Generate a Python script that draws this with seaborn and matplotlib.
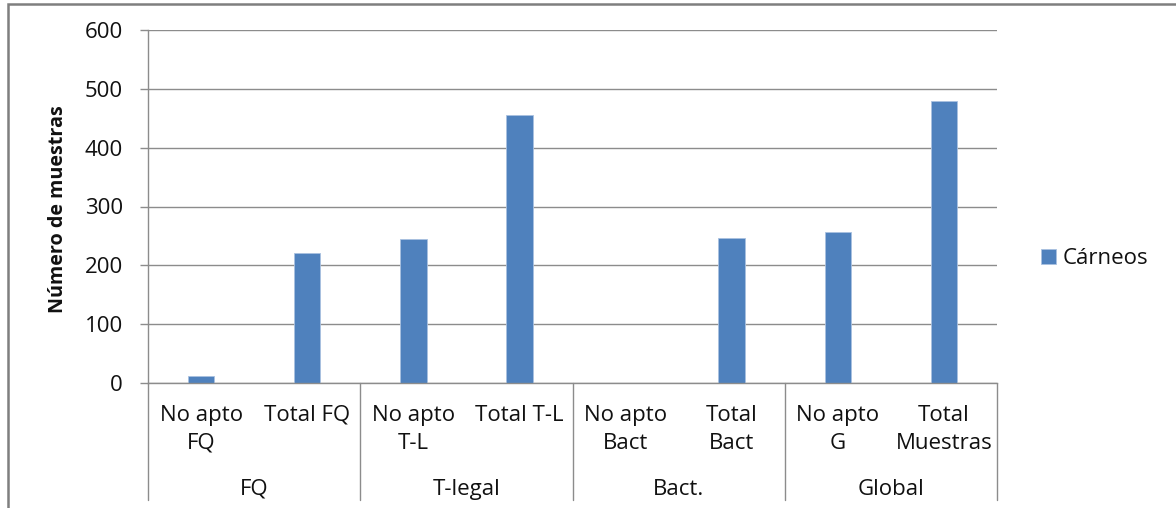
import matplotlib
matplotlib.use("Agg")
import matplotlib.pyplot as plt
import matplotlib.transforms as mtransforms
from matplotlib.patches import Rectangle
from matplotlib.lines import Line2D
import seaborn as sns
import pandas as pd

# Data: samples per category, grouped by analysis type
categories = ["No apto\nFQ", "Total FQ", "No apto\nT-L", "Total T-L",
              "No apto\nBact", "Total\nBact", "No apto\nG", "Total\nMuestras"]
groups = ["FQ", "T-legal", "Bact.", "Global"]
values = [12, 221, 244, 455, 0, 246, 257, 480]
series_name = "Cárneos"
y_ticks = [0, 100, 200, 300, 400, 500, 600]
y_label = "Número de muestras"

BAR = "#4F81BD"
GRID = "#8c8c8c"
TEXT = "#111111"
FS = 16

sns.set_style("white")
plt.rcParams["font.family"] = ["Open Sans", "DejaVu Sans"]

W, H = 1176, 508
fig = plt.figure(figsize=(W / 100, H / 100), dpi=100)
ax = fig.add_axes([148 / W, 1 - 383 / H, (997 - 148) / W, (383 - 30) / H])

df = pd.DataFrame({"categoria": categories, "valor": values})
sns.barplot(data=df, x="categoria", y="valor", order=categories, color=BAR,
            width=0.25, saturation=1, ax=ax, label=series_name,
            edgecolor="#a9c1e0", linewidth=0.6)

ax.set_xlim(-0.5, len(categories) - 0.5)
ax.set_ylim(0, 600)
ax.set_yticks(y_ticks)
ax.set_yticklabels([str(t) for t in y_ticks], fontsize=FS, color=TEXT)
ax.tick_params(axis="y", length=6, width=1, color=GRID, pad=12, direction="out", left=True)
ax.set_xticks([])
ax.set_xlabel("")
ax.set_ylabel("")
ax.yaxis.grid(True, color=GRID, lw=1)
ax.set_axisbelow(True)
for side in ("top", "right"):
    ax.spines[side].set_visible(False)
for side in ("left", "bottom"):
    ax.spines[side].set_color(GRID)
    ax.spines[side].set_linewidth(1)

# Two-level category axis below the plot
blend = mtransforms.blended_transform_factory(ax.transData, fig.transFigure)
for b in [-0.5, 1.5, 3.5, 5.5, 7.5]:
    fig.add_artist(Line2D([b, b], [1 - 383 / H, 1 - 500 / H], transform=blend,
                          color=GRID, lw=1, clip_on=False))
for i, lab in enumerate(categories):
    for j, line in enumerate(lab.split("\n")):
        fig.text(i, 1 - (421 + 28 * j) / H, line, transform=blend, ha="center",
                 va="baseline", fontsize=FS, color=TEXT)
for g, name in enumerate(groups):
    fig.text(2 * g + 0.5, 1 - 495 / H, name, transform=blend, ha="center",
             va="baseline", fontsize=FS, color=TEXT)

fig.text(58 / W, 1 - 209 / H, y_label, rotation=90, ha="center", va="center",
         fontsize=14.2, fontweight="bold", color=TEXT)

ax.legend(loc="center left", bbox_to_anchor=(1041 / W, 1 - 259 / H),
          bbox_transform=fig.transFigure, frameon=False, fontsize=FS,
          handlelength=0.68, handleheight=0.66, handletextpad=0.3,
          borderpad=0, borderaxespad=0, labelcolor=TEXT)

# Outer chart frame
fig.add_artist(Rectangle((7.5 / W, -0.1), 1.2, 1.1 - 4.5 / H, transform=fig.transFigure,
                         fill=False, edgecolor="#7f7f7f", lw=1.8))

fig.savefig("out.png", dpi=100)
